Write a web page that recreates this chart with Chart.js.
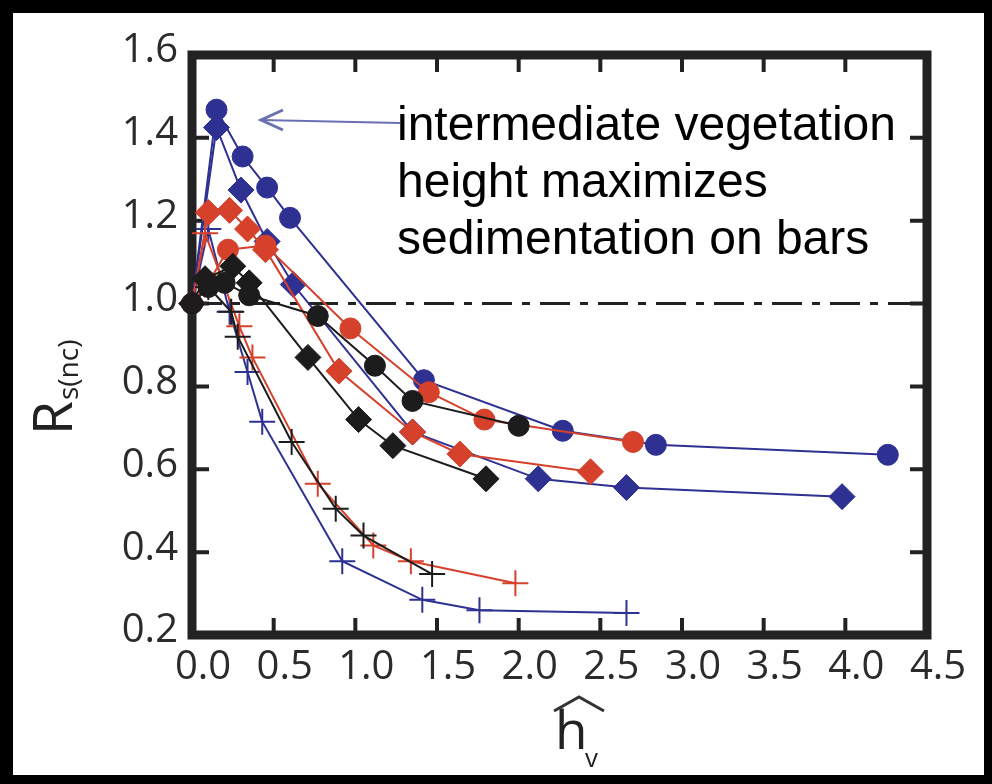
<!DOCTYPE html>
<html><head><meta charset="utf-8">
<script src="https://cdn.jsdelivr.net/npm/chart.js@4.4.1/dist/chart.umd.min.js"></script>
<style>html,body{margin:0;padding:0;background:#000;}canvas{display:block;}</style>
</head><body>
<div style="width:992px;height:784px;position:relative"><canvas id="c" width="992" height="784"></canvas></div>
<script>
// ---- tick values ----
const xTickValues = [0, 0.5, 1.0, 1.5, 2.0, 2.5, 3.0, 3.5, 4.0, 4.5];
const yTickValues = [0.2, 0.4, 0.6, 0.8, 1.0, 1.2, 1.4, 1.6];

// ---- series (h_v hat , R_s(nc)) ----
const blackCircleX = [0, 0.10, 0.20, 0.35, 0.77, 1.12, 1.35, 2.00];
const blackCircleY = [1.00, 1.04, 1.05, 1.02, 0.97, 0.85, 0.765, 0.705];
const blackDiamondX = [0, 0.08, 0.25, 0.35, 0.71, 1.02, 1.23, 1.80];
const blackDiamondY = [1.00, 1.06, 1.09, 1.05, 0.87, 0.72, 0.657, 0.577];
const blackPlusX = [0, 0.10, 0.24, 0.28, 0.61, 0.88, 1.05, 1.47];
const blackPlusY = [1.00, 1.04, 0.98, 0.92, 0.666, 0.505, 0.44, 0.347];

const redCircleX = [0, 0.10, 0.22, 0.45, 0.97, 1.45, 1.79, 2.70];
const redCircleY = [1.00, 1.05, 1.13, 1.14, 0.94, 0.786, 0.72, 0.666];
const redDiamondX = [0, 0.10, 0.23, 0.34, 0.45, 0.90, 1.35, 1.64, 2.44];
const redDiamondY = [1.00, 1.22, 1.225, 1.18, 1.13, 0.837, 0.69, 0.637, 0.594];
const redPlusX = [0, 0.08, 0.29, 0.37, 0.77, 1.11, 1.34, 1.98];
const redPlusY = [1.00, 1.17, 0.945, 0.87, 0.565, 0.416, 0.378, 0.325];

const blueCircleX = [0, 0.15, 0.31, 0.46, 0.60, 1.42, 2.27, 2.84, 4.26];
const blueCircleY = [1.00, 1.468, 1.355, 1.28, 1.207, 0.815, 0.693, 0.659, 0.635];
const blueDiamondX = [0, 0.15, 0.30, 0.46, 0.62, 1.35, 2.12, 2.66, 3.98];
const blueDiamondY = [1.00, 1.425, 1.274, 1.15, 1.046, 0.69, 0.577, 0.556, 0.534];
const bluePlusX = [0, 0.10, 0.23, 0.34, 0.43, 0.92, 1.41, 1.76, 2.66];
const bluePlusY = [1.00, 1.18, 0.98, 0.835, 0.715, 0.378, 0.285, 0.26, 0.253];

const refLineX = [0, 4.5];
const refLineY = [1.0, 1.0];

const BLACK = '#1c1c1c', RED = '#d5412b', BLUE = '#2e3192';
const TICKFONT = "'Open Sans', 'Liberation Sans', sans-serif";

function pts(xs, ys) { return xs.map((x, i) => ({ x: x, y: ys[i] })); }
function series(xs, ys, color, style) {
  const r = style === 'circle' ? 10.5 : 13;
  return {
    data: pts(xs, ys), showLine: true, borderColor: color, backgroundColor: color,
    borderWidth: 2, pointStyle: style, pointRadius: r, pointHoverRadius: r,
    pointBorderWidth: style === 'cross' ? 2 : 1, pointBackgroundColor: color, pointBorderColor: color,
    clip: false, tension: 0
  };
}

const datasets = [
  series(blackCircleX, blackCircleY, BLACK, 'circle'),
  series(blackDiamondX, blackDiamondY, BLACK, 'rectRot'),
  series(blackPlusX, blackPlusY, BLACK, 'cross'),
  series(redCircleX, redCircleY, RED, 'circle'),
  series(redDiamondX, redDiamondY, RED, 'rectRot'),
  series(redPlusX, redPlusY, RED, 'cross'),
  series(blueCircleX, blueCircleY, BLUE, 'circle'),
  series(blueDiamondX, blueDiamondY, BLUE, 'rectRot'),
  series(bluePlusX, bluePlusY, BLUE, 'cross'),
  { data: pts(refLineX, refLineY), showLine: true, borderColor: '#222', borderWidth: 3,
    borderDash: [30, 10, 8, 10], pointRadius: 0, clip: false }
];

const decor = {
  id: 'decor',
  beforeDraw(chart) {
    const ctx = chart.ctx;
    ctx.save();
    ctx.fillStyle = '#000'; ctx.fillRect(0, 0, 992, 784);
    ctx.fillStyle = '#fff'; ctx.fillRect(13, 13, 971, 762);
    ctx.restore();
  },
  beforeDatasetsDraw(chart) {
    const { ctx, chartArea: a, scales: { x, y } } = chart;
    ctx.save();
    ctx.strokeStyle = '#222';
    ctx.lineWidth = 4;
    ctx.beginPath();
    xTickValues.forEach(v => {
      if (v === xTickValues[0] || v === xTickValues[xTickValues.length - 1]) return;
      const p = x.getPixelForValue(v);
      ctx.moveTo(p, a.bottom); ctx.lineTo(p, a.bottom - 17);
      ctx.moveTo(p, a.top); ctx.lineTo(p, a.top + 17);
    });
    yTickValues.forEach(v => {
      if (v === yTickValues[0] || v === yTickValues[yTickValues.length - 1]) return;
      const p = y.getPixelForValue(v);
      ctx.moveTo(a.left, p); ctx.lineTo(a.left + 17, p);
      ctx.moveTo(a.right, p); ctx.lineTo(a.right - 17, p);
    });
    ctx.stroke();
    ctx.lineWidth = 9;
    ctx.strokeRect(a.left, a.top, a.right - a.left, a.bottom - a.top);
    ctx.restore();
  },
  afterDraw(chart) {
    const ctx = chart.ctx;
    ctx.save();
    // annotation text
    ctx.fillStyle = '#000';
    ctx.font = "48px 'Liberation Sans', Arial, sans-serif";
    ctx.textBaseline = 'alphabetic';
    ctx.textAlign = 'left';
    ctx.fillText('intermediate vegetation', 397, 140);
    ctx.fillText('height maximizes', 397, 197);
    ctx.fillText('sedimentation on bars', 397, 254);
    // arrow
    ctx.strokeStyle = '#6a70b2';
    ctx.lineWidth = 2;
    ctx.beginPath(); ctx.moveTo(400, 123); ctx.lineTo(261, 120); ctx.stroke();
    ctx.lineWidth = 3;
    ctx.beginPath(); ctx.moveTo(283, 110); ctx.lineTo(261, 120); ctx.lineTo(283, 130); ctx.stroke();
    // y-axis title R_s(nc)
    ctx.fillStyle = '#222';
    ctx.save();
    ctx.translate(72, 435);
    ctx.rotate(-Math.PI / 2);
    ctx.font = "55px " + TICKFONT;
    ctx.fillText('R', 0, 0);
    const rw = ctx.measureText('R').width;
    ctx.font = "28px " + TICKFONT;
    ctx.fillText('s(nc)', rw + 1, 6);
    ctx.restore();
    // x-axis title h-hat sub v
    ctx.font = "53px " + TICKFONT;
    ctx.fillText('h', 555, 749);
    ctx.font = "26px " + TICKFONT;
    ctx.fillText('v', 585, 767);
    ctx.strokeStyle = '#333';
    ctx.lineWidth = 3;
    ctx.beginPath(); ctx.moveTo(554, 711); ctx.lineTo(579, 697); ctx.lineTo(604, 711); ctx.stroke();
    ctx.restore();
  }
};

new Chart(document.getElementById('c'), {
  type: 'scatter',
  data: { datasets: datasets },
  plugins: [decor],
  options: {
    responsive: false, animation: false, devicePixelRatio: 1,
    layout: { padding: { left: 0, top: 55, right: 65, bottom: 0 } },
    plugins: { legend: { display: false }, tooltip: { enabled: false } },
    scales: {
      x: {
        type: 'linear', min: 0, max: 4.5,
        afterBuildTicks: s => { s.ticks = xTickValues.map(v => ({ value: v })); },
        afterFit: s => { s.height = 149; },
        grid: { display: false, drawTicks: false }, border: { display: false },
        ticks: { padding: 9, labelOffset: 11, color: '#2b2b2b', maxRotation: 0, autoSkip: false,
          font: { family: TICKFONT, size: 40 }, callback: v => Number(v).toFixed(1) }
      },
      y: {
        type: 'linear', min: 0.2, max: 1.6,
        afterBuildTicks: s => { s.ticks = yTickValues.map(v => ({ value: v })); },
        afterFit: s => { s.width = 192; },
        grid: { display: false, drawTicks: false }, border: { display: false },
        ticks: { padding: 14, labelOffset: -4, color: '#2b2b2b', autoSkip: false,
          font: { family: TICKFONT, size: 40 }, callback: v => Number(v).toFixed(1) }
      }
    }
  }
});
</script>
</body></html>
